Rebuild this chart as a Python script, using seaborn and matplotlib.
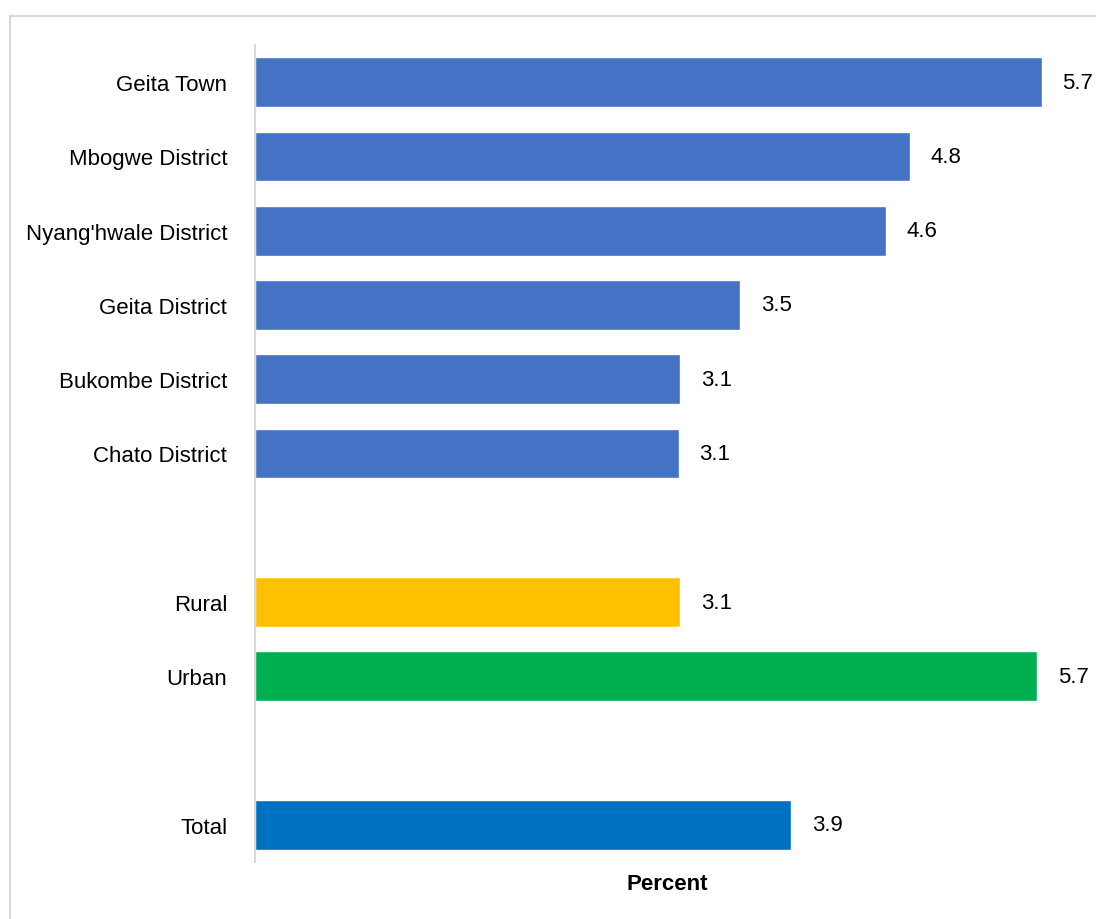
import pandas as pd
import numpy as np
import matplotlib
matplotlib.use('Agg')
import matplotlib.pyplot as plt
import seaborn as sns
from matplotlib.patches import Rectangle

####### DATA #######
labels = ['Geita Town', 'Mbogwe District', "Nyang'hwale District", 'Geita District',
          'Bukombe District', 'Chato District', 'Rural', 'Urban', 'Total']
values = [5.72, 4.76, 4.59, 3.53, 3.09, 3.08, 3.09, 5.69, 3.90]
slots = [0, 1, 2, 3, 4, 5, 7, 8, 10]   # empty slots 6 and 9 separate the groups
groups = ['district'] * 6 + ['rural', 'urban', 'total']
colors = {'district': '#4472C4', 'rural': '#FFC000', 'urban': '#00B050', 'total': '#0070C0'}

df = pd.DataFrame({'label': labels, 'value': values, 'slot': slots, 'group': groups})

sns.set_style('white')
plt.rcParams['font.family'] = ['Liberation Sans', 'DejaVu Sans']
plt.rcParams['text.color'] = 'black'
plt.rcParams['axes.labelcolor'] = 'black'
plt.rcParams['ytick.color'] = 'black'

fig = plt.figure(figsize=(10.96, 9.2), dpi=100)
ax = fig.add_axes([255 / 1096, 1 - 863 / 920, (1080 - 255) / 1096, (863 - 46) / 920])

sns.barplot(data=df, x='value', y='slot', hue='group', palette=colors, orient='h',
            native_scale=True, dodge=False, width=0.67, saturation=1, legend=False, ax=ax)

# value labels at the end of each bar
for cont in ax.containers:
    ax.bar_label(cont, fmt='%.1f', padding=15, fontsize=16, color='black')

ax.set_xlim(0, 6.0)
ax.set_ylim(10.5, -0.5)
ax.set_yticks(slots)
ax.set_yticklabels(labels, fontsize=16)
ax.tick_params(axis='y', length=0, pad=20)
ax.set_xticks([])
ax.set_xlabel('Percent', fontsize=16, fontweight='bold', labelpad=8)
ax.set_ylabel('')

for s in ['top', 'right', 'bottom']:
    ax.spines[s].set_visible(False)
ax.spines['left'].set_color('#d9d9d9')
ax.spines['left'].set_linewidth(1.5)

# light frame around the chart area
fig.patches.append(Rectangle((10 / 1096, -0.1), 1.2, 1 - 17 / 920 + 0.1,
                             transform=fig.transFigure, fill=False,
                             edgecolor='#d9d9d9', linewidth=1.5))

fig.savefig('out.png', dpi=100)
